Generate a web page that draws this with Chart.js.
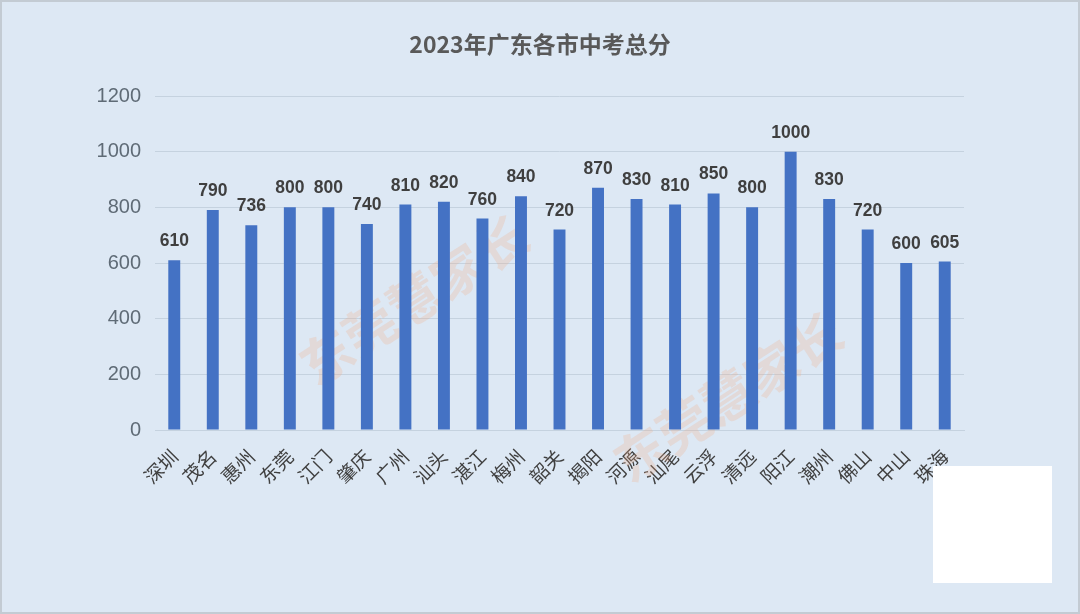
<!DOCTYPE html>
<html><head><meta charset="utf-8">
<script src="https://cdn.jsdelivr.net/npm/chart.js@4.4.0/dist/chart.umd.min.js"></script>
<style>
html,body{margin:0;padding:0;background:#dde8f4;}
#wrap{width:1080px;height:614px;position:relative;box-sizing:border-box;border:2px solid #c3cbd3;}
canvas{display:block;}
</style></head><body>
<div id="wrap"><canvas id="c" width="1076" height="610"></canvas></div>
<script>
const categories = ["深圳","茂名","惠州","东莞","江门","肇庆","广州","汕头","湛江","梅州","韶关","揭阳","河源","汕尾","云浮","清远","阳江","潮州","佛山","中山","珠海"];
const scores = [610,790,736,800,800,740,810,820,760,840,720,870,830,810,850,800,1000,830,720,600,605];
const yTicks = [0,200,400,600,800,1000,1200];
const titleText = "2023年广东各市中考总分";
const watermark = "东莞慧家长";

const valueLabels = {
  id:'valueLabels',
  afterDatasetsDraw(chart){
    const ctx = chart.ctx;
    const meta = chart.getDatasetMeta(0);
    ctx.save();
    ctx.font = 'bold 17.5px "Liberation Sans", Arial, sans-serif';
    ctx.fillStyle = '#3f3f3f';
    ctx.textAlign = 'center';
    ctx.textBaseline = 'bottom';
    meta.data.forEach((bar,i)=>{
      ctx.fillText(String(scores[i]), bar.x, bar.y - 10);
    });
    ctx.restore();
  }
};
const decor = {
  id:'decor',
  beforeDatasetsDraw(chart){
    const ctx = chart.ctx;
    ctx.save();
    ctx.font = 'bold 52px "Noto Sans CJK SC", sans-serif';
    ctx.fillStyle = 'rgba(245,170,130,0.25)';
    ctx.textAlign='center'; ctx.textBaseline='middle';
    [[412,298],[726,395]].forEach(([x,y])=>{
      ctx.save(); ctx.translate(x,y); ctx.rotate(-33*Math.PI/180);
      ctx.fillText(watermark,0,0); ctx.restore();
    });
    ctx.restore();
  },
  afterDraw(chart){
    const ctx = chart.ctx;
    ctx.save();
    ctx.fillStyle = '#595959';
    ctx.font = 'bold 23px "Noto Sans CJK SC", sans-serif';
    ctx.textAlign='center'; ctx.textBaseline='middle';
    ctx.fillText(titleText, 538, 42);
    ctx.fillStyle = '#ffffff';
    ctx.fillRect(931,464,119,117);
    ctx.restore();
  }
};

new Chart(document.getElementById('c'), {
  type:'bar',
  data:{labels:categories, datasets:[{data:scores, backgroundColor:'#4472c4', barPercentage:0.62, categoryPercentage:0.5}]},
  plugins:[decor, valueLabels],
  options:{
    responsive:false, animation:false,
    layout:{padding:{left:0,right:114,top:94,bottom:0}},
    plugins:{
      legend:{display:false}, tooltip:{enabled:false}, title:{display:false}
    },
    scales:{
      x:{
        grid:{display:false},
        border:{display:true,color:'#c5d2df'},
        ticks:{color:'#404040', font:{family:'"Noto Sans CJK SC", sans-serif', size:19}, maxRotation:45, minRotation:45, autoSkip:false, padding:7},
        afterFit(s){ s.height = 182; }
      },
      y:{
        min:0, max:1200,
        afterBuildTicks(s){ s.ticks = yTicks.map(v=>({value:v})); },
        grid:{color:'#c5d2df', drawTicks:false},
        border:{display:false},
        ticks:{color:'#5f6b76', font:{family:'"Liberation Sans", Arial, sans-serif', size:20}, padding:14, callback:v=>String(v)},
        afterFit(s){ s.width = 153; }
      }
    }
  }
});
</script>
</body></html>
